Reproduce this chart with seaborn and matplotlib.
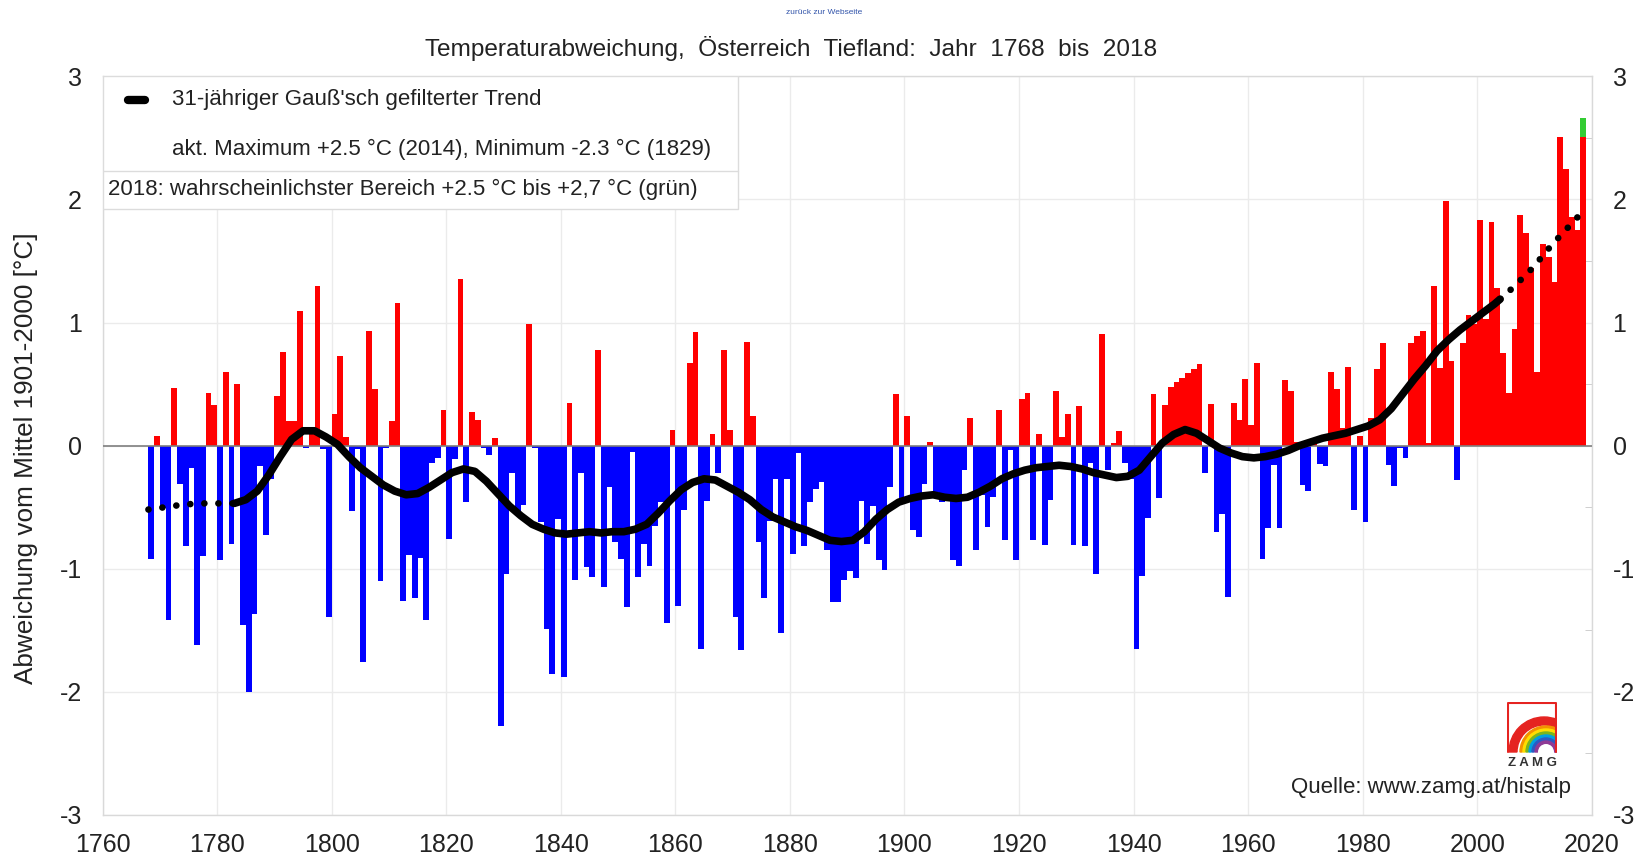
import numpy as np
import pandas as pd
import seaborn as sns
import matplotlib.pyplot as plt
from matplotlib.patches import Rectangle, Wedge
from matplotlib.ticker import MultipleLocator

# yearly anomaly vs. 1901-2000 mean
years = list(range(1768, 2019))
anomaly = [
    -0.92, 0.08,                                                          # 1768-69
    -0.51, -1.42, 0.47, -0.31, -0.82, -0.18, -1.62, -0.90, 0.43, 0.33,    # 1770s
    -0.93, 0.60, -0.80, 0.50, -1.46, -2.00, -1.37, -0.17, -0.73, -0.27,   # 1780s
    0.40, 0.76, 0.20, 0.20, 1.09, -0.02, 0.10, 1.30, -0.03, -1.39,        # 1790s
    0.26, 0.73, 0.07, -0.53, -0.03, -1.76, 0.93, 0.46, -1.10, -0.02,      # 1800s
    0.20, 1.16, -1.26, -0.89, -1.24, -0.91, -1.42, -0.14, -0.10, 0.29,    # 1810s
    -0.76, -0.11, 1.35, -0.46, 0.27, 0.21, -0.02, -0.08, 0.06, -2.28,     # 1820s
    -1.04, -0.22, -0.56, -0.48, 0.99, -0.02, -0.62, -1.49, -1.86, -0.60,  # 1830s
    -1.88, 0.35, -1.09, -0.22, -0.99, -1.07, 0.78, -1.15, -0.34, -0.78,   # 1840s
    -0.92, -1.31, -0.05, -1.07, -0.80, -0.98, -0.65, -0.46, -1.44, 0.13,  # 1850s
    -1.30, -0.52, 0.67, 0.92, -1.65, -0.45, 0.09, -0.22, 0.78, 0.13,      # 1860s
    -1.39, -1.66, 0.84, 0.24, -0.78, -1.24, -0.61, -0.27, -1.52, -0.27,   # 1870s
    -0.88, -0.06, -0.82, -0.46, -0.35, -0.30, -0.85, -1.27, -1.27, -1.09, # 1880s
    -1.02, -1.08, -0.45, -0.80, -0.49, -0.93, -1.01, -0.34, 0.42, -0.43,  # 1890s
    0.24, -0.69, -0.74, -0.31, 0.03, -0.38, -0.46, -0.40, -0.93, -0.98,   # 1900s
    -0.20, 0.22, -0.85, -0.40, -0.66, -0.42, 0.29, -0.77, -0.04, -0.93,   # 1910s
    0.38, 0.43, -0.77, 0.09, -0.81, -0.44, 0.44, 0.07, 0.26, -0.81,       # 1920s
    0.32, -0.82, -0.14, -1.04, 0.91, -0.20, 0.02, 0.12, -0.14, -0.27,     # 1930s
    -1.65, -1.06, -0.59, 0.42, -0.43, 0.33, 0.48, 0.52, 0.55, 0.59,       # 1940s
    0.62, 0.66, -0.22, 0.34, -0.70, -0.56, -1.23, 0.35, 0.21, 0.54,       # 1950s
    0.17, 0.67, -0.92, -0.67, -0.16, -0.67, 0.53, 0.44, 0.03, -0.32,      # 1960s
    -0.37, 0.04, -0.15, -0.17, 0.60, 0.46, 0.14, 0.64, -0.52, 0.08,       # 1970s
    -0.62, 0.22, 0.62, 0.83, -0.16, -0.33, -0.02, -0.10, 0.83, 0.89,      # 1980s
    0.93, 0.02, 1.30, 0.63, 1.99, 0.69, -0.28, 0.83, 1.06, 0.99,          # 1990s
    1.83, 1.03, 1.82, 1.28, 0.75, 0.43, 0.95, 1.87, 1.73, 1.44,          # 2000s
    0.60, 1.64, 1.53, 1.33, 2.51, 2.25, 1.86, 1.75, 2.51,                # 2010s
]
assert len(anomaly) == len(years)

# 2018 most likely range (green cap)
range_2018 = [2.51, 2.66]

# 31-year gaussian trend
trend_years = [1783, 1785, 1787, 1789, 1791, 1793, 1795, 1797, 1799, 1801,
               1803, 1805, 1807, 1809, 1811, 1813, 1815, 1817, 1819, 1821,
               1823, 1825, 1827, 1829, 1831, 1833, 1835, 1837, 1839, 1841,
               1843, 1845, 1847, 1849, 1851, 1853, 1855, 1857, 1859, 1861,
               1863, 1865, 1867, 1869, 1871, 1873, 1875, 1877, 1879, 1881,
               1883, 1885, 1887, 1889, 1891, 1893, 1895, 1897, 1899, 1901,
               1903, 1905, 1907, 1909, 1911, 1913, 1915, 1917, 1919, 1921,
               1923, 1925, 1927, 1929, 1931, 1933, 1935, 1937, 1939, 1941,
               1943, 1945, 1947, 1949, 1951, 1953, 1955, 1957, 1959, 1961,
               1963, 1965, 1967, 1969, 1971, 1973, 1975, 1977, 1979, 1981,
               1983, 1985, 1987, 1989, 1991, 1993, 1995, 1997, 1999, 2001,
               2003, 2004]
trend_vals = [-0.47, -0.44, -0.37, -0.24, -0.09, 0.05, 0.12, 0.12, 0.07, 0.01,
              -0.09, -0.18, -0.25, -0.32, -0.37, -0.40, -0.39, -0.34, -0.28, -0.22,
              -0.19, -0.21, -0.29, -0.39, -0.49, -0.57, -0.64, -0.68, -0.71, -0.72,
              -0.71, -0.70, -0.71, -0.70, -0.70, -0.68, -0.64, -0.55, -0.45, -0.36,
              -0.30, -0.27, -0.28, -0.33, -0.38, -0.44, -0.52, -0.58, -0.62, -0.66,
              -0.69, -0.73, -0.77, -0.78, -0.77, -0.70, -0.60, -0.52, -0.46, -0.43,
              -0.41, -0.40, -0.42, -0.43, -0.42, -0.38, -0.33, -0.27, -0.23, -0.20,
              -0.18, -0.17, -0.16, -0.17, -0.19, -0.22, -0.24, -0.26, -0.25, -0.20,
              -0.09, 0.02, 0.09, 0.13, 0.10, 0.04, -0.02, -0.06, -0.09, -0.10,
              -0.09, -0.07, -0.04, 0.00, 0.03, 0.06, 0.08, 0.10, 0.13, 0.16,
              0.21, 0.30, 0.42, 0.54, 0.65, 0.77, 0.86, 0.94, 1.01, 1.08,
              1.15, 1.19]
# dotted ends of the trend (edge effect of the filter)
start_years = [1768, 1771, 1774, 1777, 1780, 1783]
start_vals = [-0.52, -0.50, -0.48, -0.47, -0.47, -0.47]
end_years = [2004, 2006.4, 2008.1, 2009.8, 2011.4, 2013, 2014.6, 2016.2, 2018]
end_vals = [1.19, 1.29, 1.37, 1.45, 1.54, 1.63, 1.71, 1.79, 1.88]

x_ticks = list(range(1760, 2021, 20))
y_ticks = [-3, -2, -1, 0, 1, 2, 3]

title = "Temperaturabweichung,  Österreich  Tiefland:  Jahr  1768  bis  2018"
ylabel = "Abweichung vom Mittel 1901-2000 [°C]"
legend_rows = ["31-jähriger Gauß'sch gefilterter Trend",
               "akt. Maximum +2.5 °C (2014), Minimum -2.3 °C (1829)",
               "2018: wahrscheinlichster Bereich +2.5 °C bis +2,7 °C (grün)"]
source = "Quelle: www.zamg.at/histalp"
link = "zurück zur Webseite"

sns.set_style("white")
plt.rcParams['font.family'] = ['Liberation Sans', 'DejaVu Sans']
plt.rcParams['axes.unicode_minus'] = False
txt = '#222222'
grid_c = '#ebebeb'

fig = plt.figure(figsize=(16.42, 8.59), dpi=100)
ax = fig.add_axes([0.0625, 0.0516, 0.9069, 0.8594])

df = pd.DataFrame({'year': years, 'anomaly': anomaly})
df['pos'] = df['year'] + 0.5
df['sign'] = np.where(df['anomaly'] >= 0, 'warm', 'cold')

sns.barplot(data=df, x='pos', y='anomaly', hue='sign',
            palette={'warm': '#ff0000', 'cold': '#0000ff'},
            native_scale=True, width=1.0, dodge=False, saturation=1,
            linewidth=0, errorbar=None, legend=False, ax=ax, zorder=2)
ax.bar(years[-1] + 0.5, range_2018[1] - range_2018[0], bottom=range_2018[0],
       width=1.0, color='#33cc33', linewidth=0, zorder=2)

ax.axhline(0, color='#7f7f7f', lw=1.2, zorder=3)

sns.lineplot(x=trend_years, y=trend_vals, color='black', lw=5.5,
             solid_capstyle='round', ax=ax, zorder=4)
for xs, ys in [(start_years, start_vals), (end_years, end_vals)]:
    ax.plot(xs, ys, color='black', lw=4.8, linestyle=(0, (0.01, 2.1)),
            dash_capstyle='round', zorder=4)

ax.set_xlim(1760, 2020)
ax.set_ylim(-3, 3)
ax.set_xticks(x_ticks)
ax.set_yticks(y_ticks)
ax.yaxis.set_minor_locator(MultipleLocator(0.5))
ax.set_xlabel('')
ax.set_ylabel('')
ax.grid(True, which='major', color=grid_c, lw=1)
ax.set_axisbelow(True)
ax.tick_params(axis='both', which='major', length=0, labelsize=18, colors=txt)
ax.tick_params(axis='x', pad=13)
ax.tick_params(axis='y', which='major', labelright=True, pad=15)
ax.tick_params(axis='y', which='minor', left=False, right=True,
               direction='in', length=5, color='#c8c8c8')
for s in ax.spines.values():
    s.set_color('#d9d9d9')
    s.set_linewidth(1)

# legend box
ax.add_patch(Rectangle((1760, 1.92), 111, 1.08, facecolor='white',
                       edgecolor='#dcdcdc', lw=1, zorder=5))
ax.plot([1760, 1871], [2.235, 2.235], color='#dcdcdc', lw=1, zorder=6)
ax.plot([1764.4, 1767.4], [2.81, 2.81], color='black', lw=6,
        solid_capstyle='round', zorder=6)
ax.text(1772.2, 2.81, legend_rows[0], fontsize=16, color=txt, va='center', zorder=6)
ax.text(1772.2, 2.41, legend_rows[1], fontsize=16, color=txt, va='center', zorder=6)
ax.text(1761.0, 2.08, legend_rows[2], fontsize=16, color=txt, va='center', zorder=6)

fig.text(0.482, 0.944, title, fontsize=17.6, color=txt, ha='center', va='center')
fig.text(0.016, 0.467, ylabel, fontsize=18.8, color=txt, rotation=90,
         ha='center', va='center')
fig.text(0.9567, 0.0832, source, fontsize=16, color=txt, ha='right', va='center')
fig.text(0.502, 0.986, link, fontsize=6, color='#3355aa', ha='center', va='center')

# ZAMG logo
lax = fig.add_axes([1507 / 1642, (859 - 753) / 859, 50 / 1642, 51 / 859])
lax.set_xlim(-1, 49)
lax.set_ylim(-1, 50)
lax.axis('off')
lax.add_patch(Wedge((36, 0), 35, 0, 180, width=8, color='#e52421'))
for r, c in zip([26, 23, 20, 17, 14, 11],
                ['#f39200', '#ffdd00', '#7ab51d', '#00a0e0', '#2b59c3', '#8e3a96']):
    lax.add_patch(Wedge((38, 0), r, 0, 180, width=2.3, color=c))
lax.plot([0, 0, 48, 48], [0, 49, 49, 0], color='#e52421', lw=1.5)
fig.text(1532 / 1642, (859 - 763) / 859, 'Z A M G', fontsize=9.5,
         fontweight='bold', color='#333333', ha='center', va='center')

fig.savefig('out.png', dpi=100)
